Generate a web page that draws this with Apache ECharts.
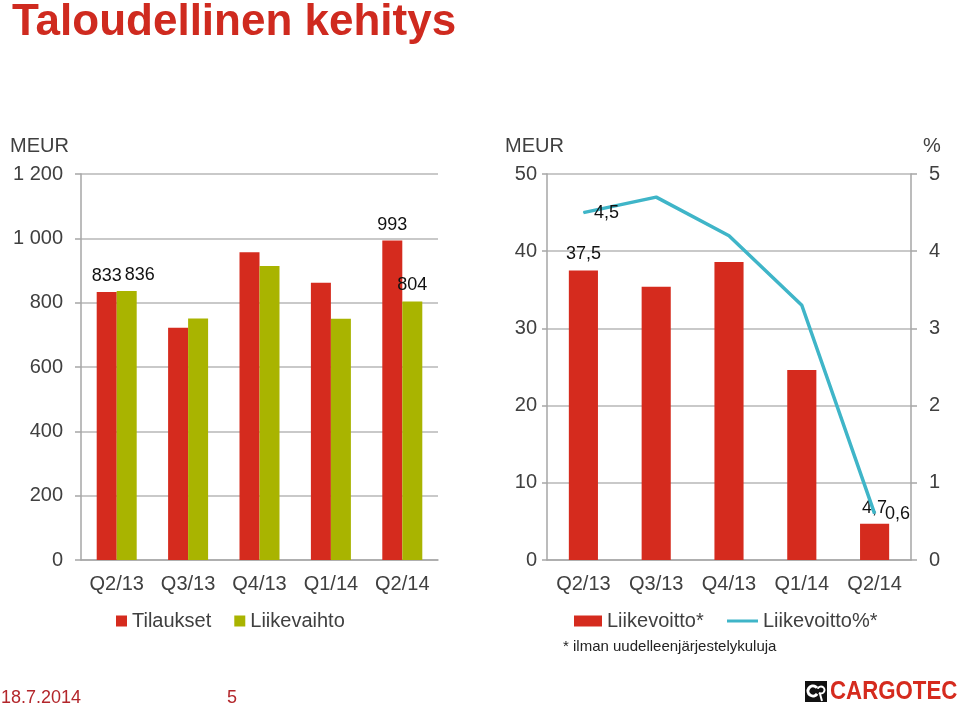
<!DOCTYPE html>
<html>
<head>
<meta charset="utf-8">
<script src="https://cdn.jsdelivr.net/npm/echarts@6/dist/echarts.min.js"></script>
<style>
html,body{margin:0;padding:0;background:#fff;}
#chart{width:960px;height:710px;}
</style>
</head>
<body>
<div id="chart"></div>
<script>
// ---- data ----
var categories = ['Q2/13', 'Q3/13', 'Q4/13', 'Q1/14', 'Q2/14'];
var tilaukset = [833, 722, 957, 862, 993];
var liikevaihto = [836, 751, 914, 750, 804];
var liikevoitto = [37.5, 35.4, 38.6, 24.6, 4.7];
var liikevoittoPct = [4.5, 4.7, 4.2, 3.3, 0.6];
var leftTicks = [0, 200, 400, 600, 800, 1000, 1200];
var rightMeurTicks = [0, 10, 20, 30, 40, 50];
var rightPctTicks = [0, 1, 2, 3, 4, 5];
var labeledIdx = [0, 4];

var FONT = 'Liberation Sans, Arial, sans-serif';
var RED = '#D52B1E';
var GREEN = '#A9B400';
var TEAL = '#3FB5C8';
var AXIS_TXT = '#404040';
var GRID_C = '#B7B7B7';
var AXIS_C = '#A6A6A6';

function comma(v) { return String(v).replace('.', ','); }
function thousands(v) { return String(v).replace(/\B(?=(\d{3})+(?!\d))/g, ' '); }

function withLabels(arr, extra) {
  return arr.map(function (v, i) {
    if (labeledIdx.indexOf(i) >= 0) {
      var lab = { show: true };
      if (extra && extra[i]) { for (var k in extra[i]) lab[k] = extra[i][k]; }
      return { value: v, label: lab };
    }
    return v;
  });
}

var chart = echarts.init(document.getElementById('chart'), null, { renderer: 'canvas' });

var catAxisCommon = {
  type: 'category',
  data: categories,
  axisTick: { show: false },
  axisLine: { show: true, lineStyle: { color: AXIS_C, width: 1.5 } },
  axisLabel: { color: AXIS_TXT, fontSize: 20, fontFamily: FONT, margin: 14 }
};

var option = {
  animation: false,
  backgroundColor: '#ffffff',
  textStyle: { fontFamily: FONT },
  grid: [
    { left: 81, right: 522, top: 174, bottom: 150, containLabel: false },
    { left: 547, right: 49, top: 174, bottom: 150, containLabel: false }
  ],
  xAxis: [
    Object.assign({ gridIndex: 0 }, catAxisCommon),
    Object.assign({ gridIndex: 1 }, catAxisCommon)
  ],
  yAxis: [
    {
      type: 'value', gridIndex: 0, min: leftTicks[0], max: leftTicks[leftTicks.length - 1], interval: 200,
      axisLine: { show: true, lineStyle: { color: AXIS_C, width: 1.5 } },
      axisTick: { show: true, length: 6, lineStyle: { color: AXIS_C, width: 1.5 } },
      splitLine: { show: true, lineStyle: { color: GRID_C, width: 1.5 } },
      axisLabel: { color: AXIS_TXT, fontSize: 20, fontFamily: FONT, margin: 18, formatter: thousands }
    },
    {
      type: 'value', gridIndex: 1, min: rightMeurTicks[0], max: rightMeurTicks[rightMeurTicks.length - 1], interval: 10,
      axisLine: { show: true, lineStyle: { color: AXIS_C, width: 1.5 } },
      axisTick: { show: true, length: 5, lineStyle: { color: AXIS_C, width: 1.5 } },
      splitLine: { show: true, lineStyle: { color: GRID_C, width: 1.5 } },
      axisLabel: { color: AXIS_TXT, fontSize: 20, fontFamily: FONT, margin: 10 }
    },
    {
      type: 'value', gridIndex: 1, position: 'right', min: rightPctTicks[0], max: rightPctTicks[rightPctTicks.length - 1], interval: 1,
      axisLine: { show: true, lineStyle: { color: AXIS_C, width: 1.5 } },
      axisTick: { show: true, length: 6, lineStyle: { color: AXIS_C, width: 1.5 } },
      splitLine: { show: false },
      axisLabel: { color: AXIS_TXT, fontSize: 20, fontFamily: FONT, margin: 18 }
    }
  ],
  legend: [
    {
      left: 116, top: 611, padding: 0, itemGap: 23, itemWidth: 11, itemHeight: 11,
      icon: 'rect',
      data: ['Tilaukset', 'Liikevaihto'],
      textStyle: { color: AXIS_TXT, fontSize: 20, fontFamily: FONT }
    },
    {
      left: 574, top: 611, padding: 0, itemWidth: 28, itemHeight: 11,
      icon: 'rect',
      data: ['Liikevoitto*'],
      textStyle: { color: AXIS_TXT, fontSize: 20, fontFamily: FONT }
    },
    {
      left: 727, top: 611, padding: 0, itemWidth: 31, itemHeight: 3,
      icon: 'rect',
      data: [{ name: 'Liikevoitto%*', itemStyle: { color: TEAL, opacity: 1 } }],
      textStyle: { color: AXIS_TXT, fontSize: 20, fontFamily: FONT }
    }
  ],
  series: [
    {
      name: 'Tilaukset', type: 'bar', xAxisIndex: 0, yAxisIndex: 0,
      barWidth: 20, barGap: '0%',
      itemStyle: { color: RED },
      label: { show: false, position: 'top', distance: 7, color: '#111', fontSize: 18, fontFamily: FONT },
      data: withLabels(tilaukset)
    },
    {
      name: 'Liikevaihto', type: 'bar', xAxisIndex: 0, yAxisIndex: 0,
      barWidth: 20, barGap: '0%',
      itemStyle: { color: GREEN },
      label: { show: false, position: 'top', distance: 7, color: '#111', fontSize: 18, fontFamily: FONT },
      data: withLabels(liikevaihto, { 0: { offset: [13, 0] } })
    },
    {
      name: 'Liikevoitto*', type: 'bar', xAxisIndex: 1, yAxisIndex: 1,
      barWidth: '40%',
      itemStyle: { color: RED },
      label: { show: false, position: 'top', distance: 7, color: '#111', fontSize: 18, fontFamily: FONT, formatter: function (p) { return comma(p.value); } },
      data: withLabels(liikevoitto)
    },
    {
      name: 'Liikevoitto%*', type: 'line', xAxisIndex: 1, yAxisIndex: 2,
      symbol: 'circle', symbolSize: 1, showSymbol: true, smooth: false,
      lineStyle: { color: TEAL, width: 3.5 },
      itemStyle: { color: TEAL },
      label: { show: false, position: 'right', distance: 10, color: '#111', fontSize: 18, fontFamily: FONT, formatter: function (p) { return comma(p.value); } },
      labelLayout: { hideOverlap: false },
      data: withLabels(liikevoittoPct),
      z: 5
    }
  ],
  graphic: [
    { type: 'text', x: 12, y: 23, style: { text: 'Taloudellinen kehitys', fill: '#CF2A1F', font: 'bold 44px ' + FONT, verticalAlign: 'middle' }, silent: true },
    { type: 'text', x: 10, y: 146, style: { text: 'MEUR', fill: AXIS_TXT, font: '20px ' + FONT, verticalAlign: 'middle' } },
    { type: 'text', x: 505, y: 146, style: { text: 'MEUR', fill: AXIS_TXT, font: '20px ' + FONT, verticalAlign: 'middle' } },
    { type: 'text', x: 932, y: 146, style: { text: '%', fill: AXIS_TXT, font: '20px ' + FONT, verticalAlign: 'middle', align: 'center' } },
    { type: 'text', x: 563, y: 647, style: { text: '* ilman uudelleenjärjestelykuluja', fill: '#222', font: '15px ' + FONT, verticalAlign: 'middle' } },
    { type: 'text', x: 1, y: 698, style: { text: '18.7.2014', fill: '#B3262B', font: '18px ' + FONT, verticalAlign: 'middle' } },
    { type: 'text', x: 232, y: 698, style: { text: '5', fill: '#B3262B', font: '18px ' + FONT, verticalAlign: 'middle', align: 'center' } },
    { type: 'rect', shape: { x: 805, y: 681, width: 22, height: 21 }, style: { fill: '#111' } },
    { type: 'arc', shape: { cx: 813, cy: 691, r: 5, startAngle: 0.6, endAngle: 5.6 }, style: { stroke: '#fff', lineWidth: 3, fill: null } },
    { type: 'arc', shape: { cx: 821, cy: 690, r: 3.5, startAngle: 3.5, endAngle: 8.5 }, style: { stroke: '#fff', lineWidth: 2, fill: null } },
    { type: 'line', shape: { x1: 820, y1: 694, x2: 822, y2: 701 }, style: { stroke: '#fff', lineWidth: 2 } },
    { type: 'text', x: 830, y: 692, scaleX: 0.89, style: { text: 'CARGOTEC', fill: '#D52B1E', font: 'bold 25px ' + FONT, verticalAlign: 'middle' } }
  ]
};

chart.setOption(option);
</script>
</body>
</html>
